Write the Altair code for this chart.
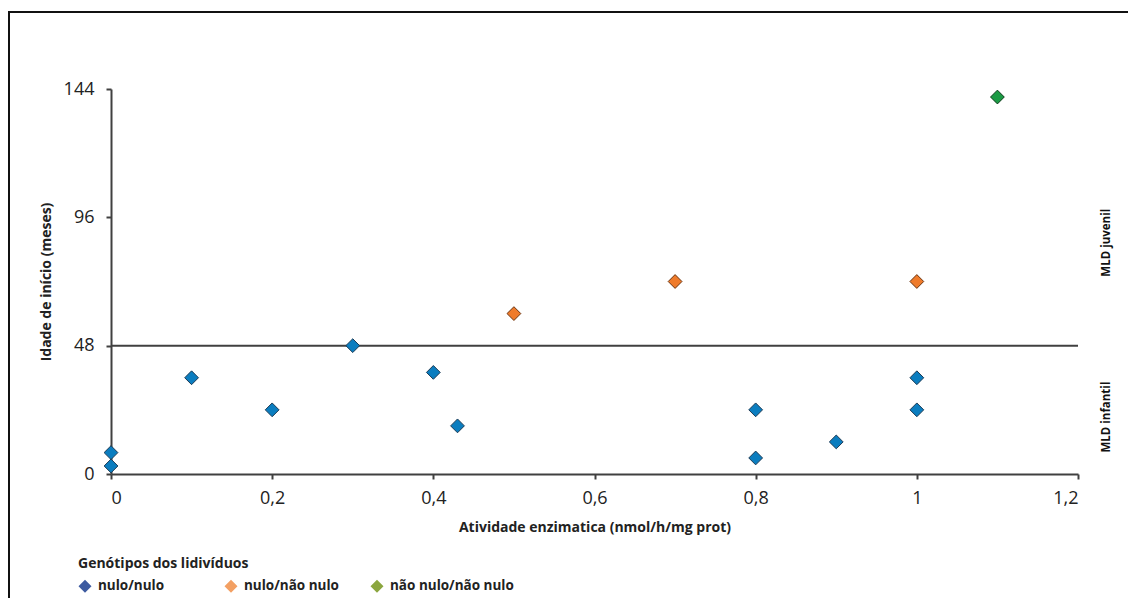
import altair as alt
import pandas as pd

# ---- data ----
x_vals = [0, 0, 0.1, 0.2, 0.3, 0.4, 0.43, 0.5, 0.7, 0.8, 0.8, 0.9, 1.0, 1.0, 1.0, 1.1]
y_vals = [8, 3, 36, 24, 48, 38, 18, 60, 72, 24, 6, 12, 36, 24, 72, 141]
genotypes = (["nulo/nulo"] * 7 + ["nulo/não nulo"] * 2 + ["nulo/nulo"] * 5
             + ["nulo/não nulo", "não nulo/não nulo"])

categories = ["nulo/nulo", "nulo/não nulo", "não nulo/não nulo"]
point_colors = ["#0b7dbf", "#ef7b2b", "#1b9a44"]
legend_colors = ["#3d5ba0", "#f3a063", "#8ba63f"]
stroke_colors = ["#1d3b55", "#6b3512", "#0d3b1a"]

x_ticks = [0, 0.2, 0.4, 0.6, 0.8, 1.0, 1.2]
y_ticks = [0, 48, 96, 144]
threshold = [48]
zone_labels = ["MLD juvenil", "MLD infantil"]
zone_label_y = [86.5, 21.3]

df = pd.DataFrame({"x": x_vals, "y": y_vals, "g": genotypes})
df["fillc"] = df["g"].map(dict(zip(categories, point_colors)))
df["strokec"] = df["g"].map(dict(zip(categories, stroke_colors)))

FONT = "Open Sans"
W, H = 967, 385

xscale = alt.Scale(domain=[0, 1.2], nice=False, zero=False)
yscale = alt.Scale(domain=[0, 144], nice=False)

base = alt.Chart(df)

frame = alt.Chart(pd.DataFrame({"a": [0]})).mark_rect(
    fill=None, stroke="#111111", strokeWidth=2
).encode(
    x=alt.value(-102), x2=alt.value(1200),
    y=alt.value(-77), y2=alt.value(700)
)

rule = alt.Chart(pd.DataFrame({"t": threshold})).mark_rule(
    color="#404040", strokeWidth=2
).encode(y=alt.Y("t:Q", scale=yscale))

points = base.mark_point(shape="diamond", filled=True, size=190, strokeWidth=1, opacity=1).encode(
    x=alt.X("x:Q", scale=xscale,
            axis=alt.Axis(values=x_ticks, title="Atividade enzimatica (nmol/h/mg prot)",
                          labelExpr="replace(format(datum.value, '~g'), '.', ',')",
                          labelPadding=10, titleFontSize=14,
                          titleY=53, titleBaseline="middle")),
    y=alt.Y("y:Q", scale=yscale,
            axis=alt.Axis(values=y_ticks, title="Idade de início (meses)",
                          labelPadding=12, titleFontSize=14,
                          titleX=-65, titleY=H / 2, titleBaseline="middle",
                          titleAlign="center", titleAnchor="start")),
    fill=alt.Fill("fillc:N", scale=None),
    stroke=alt.Stroke("strokec:N", scale=None),
)

legend_layer = base.mark_point(shape="diamond", filled=True, size=190, opacity=0).encode(
    x=alt.X("x:Q", scale=xscale),
    y=alt.Y("y:Q", scale=yscale),
    color=alt.Color("g:N", scale=alt.Scale(domain=categories, range=legend_colors),
                    legend=alt.Legend(title="Genótipos dos lidivíduos", orient="none",
                                      legendX=-33, legendY=468, direction="horizontal",
                                      columns=3, gridAlign="all", columnPadding=2,
                                      symbolType="diamond", symbolSize=170,
                                      symbolOpacity=1, symbolStrokeWidth=0,
                                      titlePadding=8, labelOffset=6)),
)

zones = alt.Chart(pd.DataFrame({"lab": zone_labels, "yy": zone_label_y})).mark_text(
    angle=270, font=FONT, fontSize=11.5, fontWeight="bold", color="#111111",
    baseline="middle", align="center"
).encode(x=alt.value(996), y=alt.Y("yy:Q", scale=yscale), text="lab:N")

chart = alt.layer(frame, rule, legend_layer, points, zones).properties(
    width=W, height=H,
    padding={"left": 103, "top": 81, "right": 50, "bottom": 124},
    autosize=alt.AutoSizeParams(type="none"),
    background="white",
).configure_view(stroke=None).configure_axis(
    grid=False, domainColor="#404040", domainWidth=2, tickColor="#404040",
    tickWidth=2, tickSize=5, labelFont=FONT, labelFontSize=18, labelColor="#222222",
    titleFont=FONT, titleFontWeight="bold", titleColor="#222222",
).configure_legend(
    titleFont=FONT, titleFontSize=14, titleFontWeight="bold", titleColor="#222222",
    labelFont=FONT, labelFontSize=13.5, labelFontWeight="bold", labelColor="#222222",
)

chart.save("out.html", embed_options={"renderer": "svg", "actions": False})
